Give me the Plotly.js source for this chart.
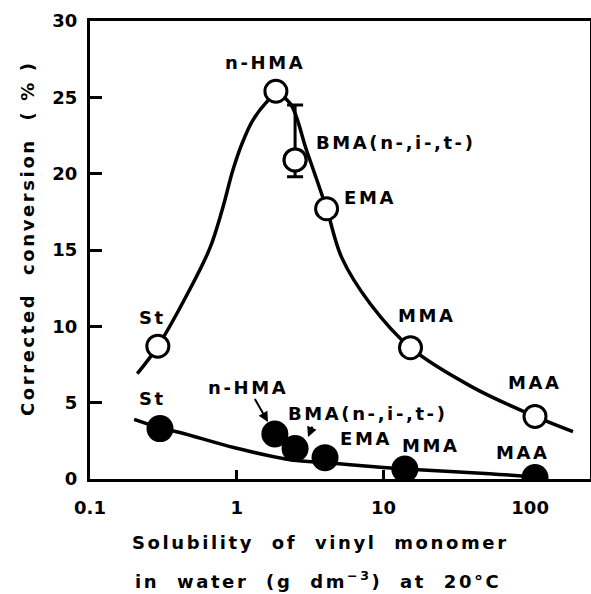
<!DOCTYPE html>
<html>
<head>
<meta charset="utf-8">
<script src="https://cdn.plot.ly/plotly-3.0.1.min.js"></script>
<style>
  html, body { margin: 0; padding: 0; background: #fff; }
  #chart { width: 591px; height: 594px; }
  .annotation-text { letter-spacing: 2.6px; }
</style>
</head>
<body>
<div id="chart"></div>
<script>
// ---- data ----
const monomers = ["St", "n-HMA", "BMA(n-,i-,t-)", "EMA", "MMA", "MAA"];

// open circles (upper series)
const openX = [0.29, 1.85, 2.5, 4.1, 15.3, 108];
const openY = [8.7, 25.4, 20.9, 17.7, 8.6, 4.1];
// error bar on the BMA open point
const bmaErrPlus = [3.6];
const bmaErrMinus = [1.1];

// filled circles (lower series)
const filledX = [0.30, 1.82, 2.5, 4.0, 14, 108];
const filledY = [3.3, 2.95, 2.0, 1.4, 0.65, 0.1];

// hand-drawn trend curves
const openCurveX = [0.21, 0.29, 0.46, 0.655, 0.80, 0.94, 1.08, 1.27, 1.57, 1.85, 2.31, 3.0, 4.1, 5.2, 8.1, 15.3, 40.7, 108, 196];
const openCurveY = [6.9, 8.7, 12.1, 15.1, 17.7, 20.2, 21.9, 23.4, 24.6, 25.2, 24.6, 21.5, 17.7, 14.5, 11.5, 8.6, 6.0, 4.1, 3.1];
const filledCurveX = [0.2, 0.3, 0.41, 0.97, 2.2, 5.0, 10, 14, 53, 100];
const filledCurveY = [3.9, 3.35, 3.05, 2.05, 1.3, 1.0, 0.75, 0.65, 0.35, 0.15];

// axis ticks
const xTickVals = [0.1, 1, 10, 100];
const xTickText = ["0.1", "1", "10", "100"];
const yTickVals = [0, 5, 10, 15, 20, 25, 30];
const yTickText = ["0", "5", "10", "15", "20", "25", "30"];

const FONT = "DejaVu Sans, Arial, sans-serif";
const LABEL_FONT = { family: FONT, size: 18, color: "#000", weight: "bold" };

const traces = [
  { x: openCurveX, y: openCurveY, mode: "lines", line: { color: "#000", width: 3.5, shape: "spline", smoothing: 1 }, hoverinfo: "skip" },
  { x: filledCurveX, y: filledCurveY, mode: "lines", line: { color: "#000", width: 3.5, shape: "spline", smoothing: 1 }, hoverinfo: "skip" },
  { x: [openX[2]], y: [openY[2]], mode: "markers",
    marker: { size: 22, color: "#fff", line: { color: "#000", width: 3 } },
    error_y: { type: "data", symmetric: false, array: bmaErrPlus, arrayminus: bmaErrMinus, color: "#000", thickness: 3, width: 8 } },
  { x: openX, y: openY, text: monomers, mode: "markers",
    marker: { size: 22, color: "#fff", line: { color: "#000", width: 3 } } },
  { x: filledX, y: filledY, text: monomers, mode: "markers",
    marker: { size: 27, color: "#000", line: { color: "#000", width: 0 } } }
];

// helpers converting picture positions of labels into axis coordinates
const xl = px => -1 + (px - 90) / 146.7;   // log10 value
const yv = py => (479 - py) / 15.27;

function lab(text, px, py, anchor) {
  return { text: text, x: xl(px), y: yv(py), xref: "x", yref: "y", showarrow: false,
           xanchor: anchor || "center", yanchor: "middle", font: LABEL_FONT };
}

const annotations = [
  lab("n-HMA", 265, 62),
  lab(monomers[2], 314, 142, "left"),
  lab("EMA", 342, 197, "left"),
  lab("St", 152, 317),
  lab("MMA", 427, 315),
  lab("MAA", 535, 382),
  lab("St", 152, 398),
  // n-HMA label carrying its own arrow to the filled point
  { text: "n-HMA", x: xl(268), y: yv(422), xref: "x", yref: "y", showarrow: true,
    ax: -20, ay: -35, arrowhead: 2, arrowsize: 1, arrowwidth: 2, arrowcolor: "#000", standoff: 0,
    font: LABEL_FONT },
  lab(monomers[2], 286, 413, "left"),
  lab("EMA", 366, 438),
  lab("MMA", 431, 445),
  lab("MAA", 523, 452),
  // arrow from the BMA label to the filled BMA point
  { text: "", x: xl(308), y: yv(437), xref: "x", yref: "y", showarrow: true, ax: 5, ay: -12,
    arrowhead: 2, arrowsize: 1, arrowwidth: 2, arrowcolor: "#000", standoff: 0 },
  // axis titles
  { text: "Solubility  of  vinyl  monomer", xref: "paper", yref: "paper",
    x: (320 - 90) / 500, y: (479 - 542) / 458, showarrow: false, xanchor: "center", yanchor: "middle",
    font: LABEL_FONT },
  { text: "in  water  (g  dm<sup>−3</sup>)  at  20°C", xref: "paper", yref: "paper",
    x: (318 - 90) / 500, y: (479 - 580) / 458, showarrow: false, xanchor: "center", yanchor: "middle",
    font: LABEL_FONT },
  { text: "Corrected  conversion  ( % )", xref: "paper", yref: "paper", textangle: -90,
    x: (27 - 90) / 500, y: (479 - 238) / 458, showarrow: false, xanchor: "center", yanchor: "middle",
    font: LABEL_FONT }
];

const layout = {
  width: 591, height: 594,
  margin: { l: 90, r: 1, t: 21, b: 115 },
  paper_bgcolor: "#fff", plot_bgcolor: "#fff",
  showlegend: false,
  font: { family: FONT, color: "#000" },
  xaxis: {
    type: "log", range: [-1, Math.log10(256)],
    tickvals: xTickVals, ticktext: xTickText,
    ticks: "inside", ticklen: 9, tickwidth: 2.5, tickcolor: "#000",
    showline: true, linewidth: 3, linecolor: "#000", mirror: true,
    showgrid: false, zeroline: false,
    tickfont: { family: FONT, size: 18, color: "#000", weight: "bold" },
    ticklabelstandoff: 10
  },
  yaxis: {
    range: [0, 30],
    tickvals: yTickVals, ticktext: yTickText,
    ticks: "inside", ticklen: 12, tickwidth: 3, tickcolor: "#000",
    showline: true, linewidth: 3, linecolor: "#000", mirror: true,
    showgrid: false, zeroline: false,
    tickfont: { family: FONT, size: 18, color: "#000", weight: "bold" },
    ticklabelstandoff: 6
  },
  annotations: annotations
};

Plotly.newPlot("chart", traces, layout, { staticPlot: true, displayModeBar: false });
</script>
</body>
</html>
